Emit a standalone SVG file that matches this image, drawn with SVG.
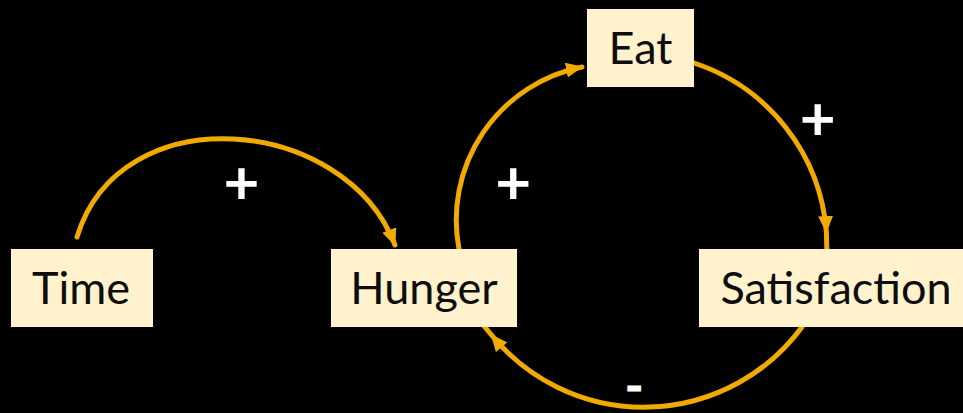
<svg xmlns="http://www.w3.org/2000/svg" width="963" height="413" viewBox="0 0 963 413">
  <defs>
    <style>
      .box { fill: #FFF2CC; }
      .lbl { font-family: Lato, "Open Sans", "Liberation Sans", sans-serif; font-size: 45px; fill: #0D0D0D; text-anchor: middle; }
      .sign { font-family: Lato, "Liberation Sans", sans-serif; font-weight: bold; font-size: 62px; fill: #FFFFFF; text-anchor: middle; }
      .minus { font-family: Lato, "Liberation Sans", sans-serif; font-weight: bold; font-size: 48px; fill: #FFFFFF; stroke: #FFFFFF; stroke-width: 1.2; text-anchor: middle; }
      .link { fill: none; stroke: #F0AA00; stroke-width: 5; stroke-linecap: round; }
    </style>
    <marker id="arrow" markerUnits="userSpaceOnUse" markerWidth="18" markerHeight="16" refX="16" refY="7.5" orient="auto" viewBox="0 0 18 16">
      <path d="M0,0 L17,7.5 L0,15 z" fill="#F0AA00"/>
    </marker>
  </defs>
  <rect x="0" y="0" width="963" height="413" fill="#000000"/>

  <g id="connectors">
    <path class="link" d="M77,237 C120,95 345,115 395,245" marker-end="url(#arrow)"/>
    <path class="link" d="M459,249 A156,156 0 0 1 582,67" marker-end="url(#arrow)"/>
    <path class="link" d="M694,63 A193.5,193.5 0 0 1 826.4,232 L826.8,249" marker-mid="url(#arrow)"/>
    <path class="link" d="M802,327 A196.5,196.5 0 0 1 491.5,335 L484,326" marker-mid="url(#arrow)"/>
  </g>

  <g id="node-time">
    <rect class="box" x="11" y="249" width="142" height="78"/>
    <text class="lbl" x="81" y="304">Time</text>
  </g>
  <g id="node-hunger">
    <rect class="box" x="331" y="249" width="186" height="78"/>
    <text class="lbl" x="424" y="304">Hunger</text>
  </g>
  <g id="node-eat">
    <rect class="box" x="587" y="9" width="107" height="78"/>
    <text class="lbl" x="640.5" y="64">Eat</text>
  </g>
  <g id="node-satisfaction">
    <rect class="box" x="699" y="249" width="264" height="78"/>
    <text class="lbl" x="836" y="304">Satisfaction</text>
  </g>

  <g id="polarity">
    <text class="sign" x="241.5" y="204">+</text>
    <text class="sign" x="513.3" y="204">+</text>
    <text class="sign" x="817.7" y="140">+</text>
    <text class="minus" x="634.3" y="403">-</text>
  </g>
</svg>
